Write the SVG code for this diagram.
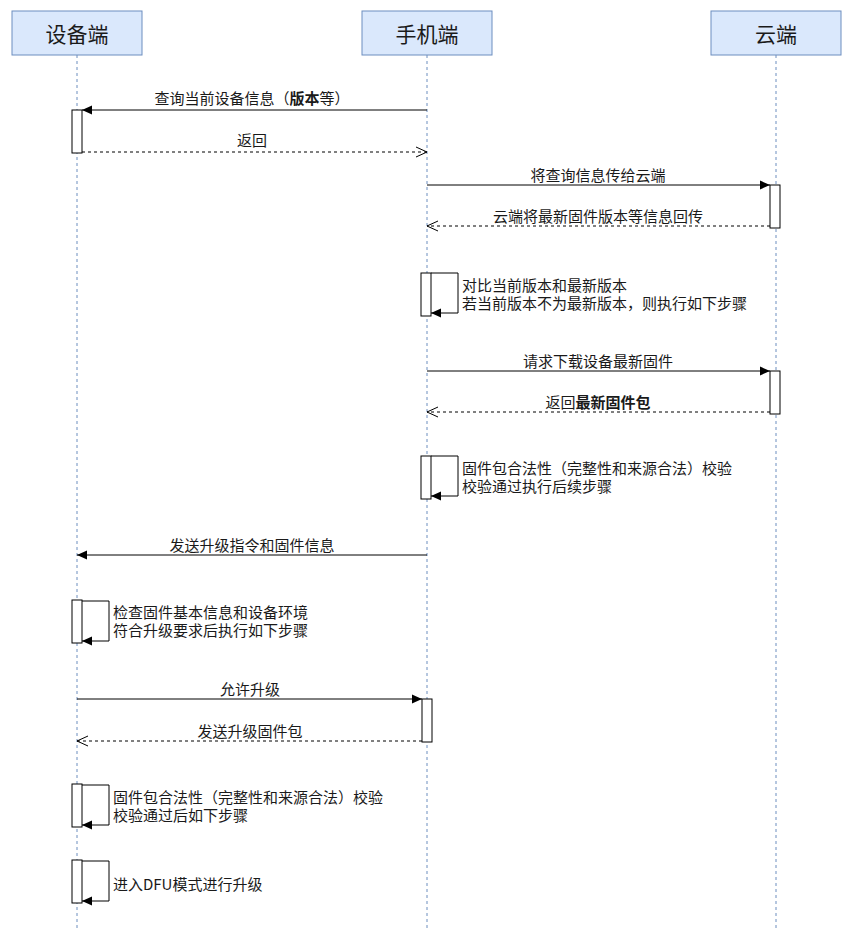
<svg xmlns="http://www.w3.org/2000/svg" width="853" height="940" viewBox="0 0 853 940">
<style>
.hdr{fill:#dae8fc;stroke:#6c8ebf;stroke-width:1}
.life{stroke:#6c8ebf;stroke-width:1;stroke-dasharray:3 3;fill:none}
.act{fill:#ffffff;stroke:#000;stroke-width:1}
.msg{stroke:#000;stroke-width:1;fill:none}
.ret{stroke:#000;stroke-width:1;fill:none;stroke-dasharray:3 3}
text{font-family:"Noto Sans CJK SC","Noto Sans",sans-serif;fill:#1a1a1a}
.h{font-size:21px;text-anchor:middle;dominant-baseline:central}
.l{font-size:15px;text-anchor:middle;dominant-baseline:central}
.s{font-size:15px}
.b{font-weight:bold}
</style>
<defs>
<marker id="fill" markerUnits="userSpaceOnUse" markerWidth="12" markerHeight="12" viewBox="0 0 12 12" refX="10" refY="6" orient="auto">
<path d="M0,1.5 L10,6 L0,10.5 Z" fill="#000"/>
</marker>
<marker id="open" markerUnits="userSpaceOnUse" markerWidth="14" markerHeight="14" viewBox="0 0 14 14" refX="12" refY="7" orient="auto">
<path d="M1,2 L12,7 L1,12" fill="none" stroke="#000" stroke-width="1"/>
</marker>
</defs>

<g id="lifelines">
<line class="life" x1="77" y1="55" x2="77" y2="930"/>
<line class="life" x1="427" y1="55" x2="427" y2="930"/>
<line class="life" x1="776" y1="55" x2="776" y2="930"/>
</g>

<g id="device">
<rect class="hdr" x="12" y="11" width="130" height="44"/>
<text class="h" x="77" y="33">设备端</text>
</g>
<g id="phone">
<rect class="hdr" x="362" y="11" width="130" height="44"/>
<text class="h" x="427" y="33">手机端</text>
</g>
<g id="cloud">
<rect class="hdr" x="711" y="11" width="130" height="44"/>
<text class="h" x="776" y="33">云端</text>
</g>

<g id="activations">
<rect class="act" x="72" y="110" width="10" height="43"/>
<rect class="act" x="770" y="185" width="10" height="43"/>
<rect class="act" x="421" y="273" width="10" height="43"/>
<rect class="act" x="770" y="371" width="10" height="43"/>
<rect class="act" x="421" y="456" width="10" height="43"/>
<rect class="act" x="72" y="600" width="10" height="43"/>
<rect class="act" x="422" y="699" width="10" height="43"/>
<rect class="act" x="72" y="784" width="10" height="43"/>
<rect class="act" x="72" y="860" width="10" height="43"/>
</g>

<g id="connectors">
<line class="msg" x1="427" y1="110" x2="82" y2="110" marker-end="url(#fill)"/>
<line class="ret" x1="82" y1="152" x2="427" y2="152" marker-end="url(#open)"/>
<line class="msg" x1="427" y1="185" x2="770" y2="185" marker-end="url(#fill)"/>
<line class="ret" x1="770" y1="226" x2="427" y2="226" marker-end="url(#open)"/>
<path class="msg" d="M431,273 H458 V313 H431" marker-end="url(#fill)"/>
<line class="msg" x1="427" y1="371" x2="770" y2="371" marker-end="url(#fill)"/>
<line class="ret" x1="770" y1="412" x2="427" y2="412" marker-end="url(#open)"/>
<path class="msg" d="M431,456 H458 V496 H431" marker-end="url(#fill)"/>
<line class="msg" x1="427" y1="555" x2="77" y2="555" marker-end="url(#fill)"/>
<path class="msg" d="M82,601 H109 V641 H82" marker-end="url(#fill)"/>
<line class="msg" x1="77" y1="699" x2="422" y2="699" marker-end="url(#fill)"/>
<line class="ret" x1="422" y1="741" x2="77" y2="741" marker-end="url(#open)"/>
<path class="msg" d="M82,785 H109 V825 H82" marker-end="url(#fill)"/>
<path class="msg" d="M82,861 H109 V901 H82" marker-end="url(#fill)"/>
</g>

<g id="labels">
<text class="l" x="252" y="97">查询当前设备信息（<tspan class="b">版本</tspan>等）</text>
<text class="l" x="252" y="139">返回</text>
<text class="l" x="598" y="174">将查询信息传给云端</text>
<text class="l" x="598" y="215">云端将最新固件版本等信息回传</text>
<text class="s" x="462" y="291"><tspan x="462">对比当前版本和最新版本</tspan><tspan x="462" dy="18">若当前版本不为最新版本，则执行如下步骤</tspan></text>
<text class="l" x="598" y="360">请求下载设备最新固件</text>
<text class="l" x="598" y="401">返回<tspan class="b">最新固件包</tspan></text>
<text class="s" x="462" y="474"><tspan x="462">固件包合法性（完整性和来源合法）校验</tspan><tspan x="462" dy="18">校验通过执行后续步骤</tspan></text>
<text class="l" x="252" y="544">发送升级指令和固件信息</text>
<text class="s" x="113" y="618"><tspan x="113">检查固件基本信息和设备环境</tspan><tspan x="113" dy="18">符合升级要求后执行如下步骤</tspan></text>
<text class="l" x="250" y="688">允许升级</text>
<text class="l" x="250" y="730">发送升级固件包</text>
<text class="s" x="113" y="803"><tspan x="113">固件包合法性（完整性和来源合法）校验</tspan><tspan x="113" dy="18">校验通过后如下步骤</tspan></text>
<text class="l" x="113" y="883" style="text-anchor:start">进入DFU模式进行升级</text>
</g>
</svg>
